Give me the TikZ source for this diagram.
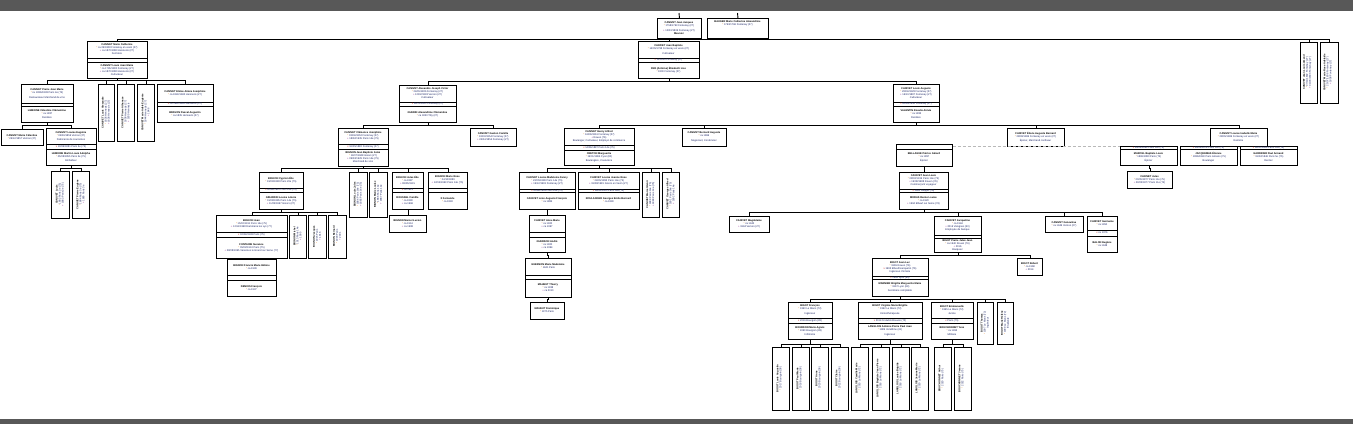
\documentclass[tikz,border=0pt]{standalone}
\usepackage{fontspec}
\setmainfont{Liberation Sans}
\definecolor{barcol}{RGB}{88,88,88}
\definecolor{dtcol}{RGB}{25,35,100}
\definecolor{stcol}{RGB}{235,130,20}
\definecolor{dccol}{RGB}{150,40,150}
\definecolor{macol}{RGB}{200,30,30}
\newcommand\nm[1]{\textbf{\color{black}#1}}
\newcommand\bo{{\color{stcol}*}}
\newcommand\dc{{\color{dccol}+}}
\newcommand\ma{{\color{macol}x}}
\tikzset{
  boite/.style={draw, line width=0.9pt, fill=white, inner sep=0pt, anchor=north west},
  sepl/.style={line width=0.8pt},
  lien/.style={line width=0.9pt},
  txt/.style={inner sep=0pt, align=center, text=dtcol, font=\fontsize{2.55}{3.0}\selectfont},
}
\newcommand\gbox[6]{%
  \node[boite, minimum width={(#4-#2)*1pt}, minimum height={(#5-#3)*1pt}] (#1) at (#2,#3) {};
  \node[txt] (#1-t) at ({(#2+#4)/2},{(#3+#5)/2}) {#6};}
\newcommand\gvert[6]{%
  \node[boite, minimum width={(#4-#2)*1pt}, minimum height={(#5-#3)*1pt}] (#1) at (#2,#3) {};
  \node[txt, rotate=90] (#1-t) at ({(#2+#4)/2},{(#3+#5)/2}) {#6};}
\newcommand\gfam[7]{%
  \node[boite, minimum width={(#4-#2)*1pt}, minimum height={(#5-#3)*1pt}] (#1) at (#2,#3) {};
  \draw[sepl] (#2,#6) -- (#4,#6);
  \draw[sepl] (#2,#7) -- (#4,#7);
  \def\fx{#2}\def\fy{#3}\def\fX{#4}\def\fY{#5}\def\fs{#6}\def\fS{#7}\def\fn{#1}%
  \gfamtext}
\newcommand\gfamtext[3]{%
  \node[txt] (\fn-a) at ({(\fx+\fX)/2},{(\fy+\fs)/2}) {#1};
  \node[txt] (\fn-b) at ({(\fx+\fX)/2},{(\fs+\fS)/2}) {#2};
  \node[txt] (\fn-c) at ({(\fx+\fX)/2},{(\fS+\fY)/2}) {#3};}
\newcommand\kids[3]{%
  \coordinate (#1-bus) at (0,#2);
  \foreach \c in {#3} {\draw[lien] (#1.south) -- (#1.south |- #1-bus) -| (\c.north);}}
\begin{document}
\begin{tikzpicture}[x=1pt,y=-1pt]
\useasboundingbox (0,0) rectangle (1353,424);
\fill[white] (0,0) rectangle (1353,424);
\fill[barcol] (0,0) rectangle (1353,10.5);
\fill[barcol] (0,419) rectangle (1353,424);

% ---- generation 1
\gbox{jj}{657}{18}{701}{38}{\nm{CANIVET Jean Jacques}\\ \bo{} 1758/1763 Fontenay (27)\\[1.5pt] \dc{} 12/03/1836 Fontenay (27)\\ \nm{Meunier}}
\gbox{bauger}{707}{18}{768}{38}{\nm{BAUGER Marie Catherine Alexandrine}\\ \bo{} 1763/1766 Fontenay (27)\\[6pt]~}
\coordinate (t1) at (679,13);
\coordinate (t2) at (737.5,13);
\draw[lien] (t1) -- (jj.north);
\draw[lien] (t2) -- (bauger.north);

% ---- generation 2
\gfam{mc}{87}{41}{147}{78}{58}{62}
 {\nm{CANIVET Marie Catherine}\\ \bo{} ca 09/1808 Fontenay en vexin (27)\\ \dc{} ca 1870/1880 Hennezis (27)\\ Fermière}
 {}
 {\nm{CANIVET Louis Jean Marie}\\ \bo{} ca 1795/1800 Fontenay (27)\\ \dc{} ca 1870/1880 Hennezis (27)\\ Cultivateur}
\gfam{jb}{638}{41}{699}{78}{58}{62}
 {\nm{CANIVET Jean Baptiste}\\ \bo{} 14/05/1798 Fontenay en vexin (27)\\[1.5pt] Cultivateur}
 {\ma{} 11/1826 Fontenay (27)}
 {\nm{FER (Antoine) Élisabeth Lise}\\ \bo{} 1800 Fontenay (27)}
\gvert{r1}{1300}{42}{1317}{103}{\nm{CANIVET Jean Louis Amand}\\ \bo{} 07/11/1802 Fontenay (27)\\ \dc{} 04/03/1803 Fontenay (27)\\ ~}
\gvert{r2}{1320}{42}{1338}{103}{\nm{CANIVET Marie Rose Adélaïde}\\ \bo{} 25/07/1806 Fontenay (27)\\ \dc{} 1808 Fontenay (27)\\ ~}
\kids{jj}{39.5}{mc,jb,r1,r2}

% ---- left branch
\gfam{pjm}{21}{84}{73}{122}{103}{106}
 {\nm{CANIVET Pierre Jean Marie}\\ \bo{} ca 1836/1838 Paris 4e (75)\\[1.5pt] Restaurateur Marchand de vins}
 {}
 {\nm{LEMOINE Célestine Clémentine}\\ \bo{} ca 1837\\[1.5pt] Rentière}
\gvert{lv1}{98}{84}{114}{141}{\nm{CANIVET Louis Alexandre}\\ \bo{} 1836 Hennezis (27)\\ \dc{} 1838 Hennezis (27)}
\gvert{lv2}{117}{84}{134}{141}{\nm{CANIVET Pierre Athanase}\\ \bo{} 1838 Hennezis (27)\\ \dc{} 1839 Hennezis}
\gvert{lv3}{137}{84}{154}{141}{\nm{CANIVET Marie Adèle Eugénie}\\ \bo{} 1844 Hennezis (27)\\ \dc{} 1846}
\gfam{elo}{157}{84}{213}{122}{102}{106}
 {\nm{CANIVET Eloïse Aimée Joséphine}\\ \bo{} ca 1840/1842 Hennezis (27)}
 {\ma{} ca 1860/1863 Hennezis (27)}
 {\nm{BRAVON Pascal Augustin}\\ \bo{} ca 1835 Hennezis (27)}
\kids{mc}{80.7}{pjm,lv1,lv2,lv3,elo}

\gbox{celest}{1}{129}{43}{145}{\nm{CANIVET Marie Célestine}\\ \bo{} 26/12/1857 Vernon (27)}
\gfam{eug}{46}{128}{96}{165}{144}{149}
 {\nm{CANIVET Louise Eugénie}\\ \bo{} 05/09/1859 Vernon (27)\\[1.5pt] Fabricante de couronnes}
 {\ma{} 18/06/1881 Paris 3e (75)}
 {\nm{LEMOINE Martin Louis Adolphe}\\ \bo{} 05/08/1855 Paris 3e (75)\\[1.5pt] Emballeur}
\kids{pjm}{125.7}{celest,eug}
\gvert{ev1}{51}{171}{69}{218}{\nm{CANIVET Louis}\\ \bo{} 1882 Paris 3e (75)\\ \dc{} 1883 Paris 3e (75)}
\gvert{ev2}{72}{171}{89}{218}{\nm{CANIVET Pierre Eugène}\\ \bo{} 1884 Paris 3e (75)\\ \dc{} 1885 Paris 3e}
\kids{eug}{168.3}{ev1,ev2}

% ---- Alexandre branch
\gfam{alex}{399}{85}{456}{122}{102}{106}
 {\nm{CANIVET Alexandre Joseph Victor}\\ \bo{} 24/05/1826 Fontenay (27)\\ \dc{} 12/02/1893 Vernon (27)\\ Cultivateur}
 {\ma{} 26/10/1850 Fontenay (27)}
 {\nm{GUERIN Alexandrine Clémentine}\\ \bo{} ca 1830 Tilly (27)}
\gfam{la}{893}{84}{939}{122}{102}{106}
 {\nm{CANIVET Louis Auguste}\\ \bo{} 28/04/1828 Fontenay (27)\\ \dc{} 16/10/1887 Fontenay (27)\\ Cultivateur}
 {\ma{} 26/08/1858 Fontenay (27)}
 {\nm{VALENTIN Rosalie Aimée}\\ \bo{} ca 1833\\[1.5pt] Rentière}
\kids{jb}{81.7}{alex,la}

\gfam{clem}{338}{128}{388}{166}{144}{149}
 {\nm{CANIVET Clémence Joséphine}\\ \bo{} 03/04/1852 Fontenay (27)\\ \dc{} 18/02/1935 Paris 14e (75)}
 {\ma{} 16/05/1882 Fontenay (27)}
 {\nm{BIGNON Jean Baptiste Jules}\\ \bo{} 19/07/1848 Gisors (27)\\ \dc{} 09/03/1929 Paris 14e (75)\\ Marchand de vins}
\gbox{gaston}{470}{128}{516}{146}{\nm{CANIVET Gaston Camille}\\ \bo{} 18/03/1854 Fontenay (27)\\ \dc{} 24/04/1854 Fontenay (27)}
\kids{alex}{125}{clem,gaston}

\gfam{cyp}{259}{172}{303}{209}{188}{192}
 {\nm{BIGNON Cyprien Élie}\\ \bo{} 19/09/1883 Paris 20e (75)}
 {\ma{} 20/04/1910 Paris 14e (75)}
 {\nm{GIRARDIN Louise Léonie}\\ \bo{} 01/08/1885 Paris 14e (75)\\ \dc{} 11/05/1967 Gisors (27)}
\gvert{cv1}{349}{172}{367}{217}{\nm{BIGNON Louis Jules}\\ \bo{} 1884 Paris 14e (75)\\ \dc{} 1885 Paris 14e (75)}
\gvert{cv2}{369}{172}{387}{217}{\nm{BIGNON Marie Louise}\\ \bo{} 1886 Paris 14e\\ \dc{} 1887 Paris 14e}
\gfam{bfour}{392}{172}{423}{209}{188}{192}
 {\nm{BIGNON Jules Élie}\\ \bo{} ca 1887\\ \dc{} 08/05/1915}
 {\ma{} ca 1913}
 {\nm{ROUSSEL Camille}\\ \bo{} ca 1890\\ \dc{} ca 1966}
\gfam{bfive}{428}{172}{467}{209}{188}{192}
 {\nm{BIGNON Marie Rose}\\ \bo{} 04/10/1889\\ \dc{} 12/04/1963 Paris 14e (75)}
 {}
 {\nm{X Fernande}\\ \bo{} ca 1893}
\kids{clem}{168.7}{cyp,cv1,cv2,bfour,bfive}
\gbox{bfourc}{389}{215}{426}{232}{\nm{BIGNON Marcel Lucien}\\ \bo{} ca 1914\\ \dc{} ca 1998}
\kids{bfour}{212}{bfourc}

\gfam{bjean}{216}{215}{287}{258}{232}{237}
 {\nm{BIGNON Jean}\\ \bo{} 15/02/1911 Paris 14e (75)\\ \dc{} 12/11/1998 Dammarie les Lys (77)}
 {\ma{} 02/04/1938 Paris (75)}
 {\nm{FONTAINE Suzanne}\\ \bo{} 05/02/1913 Paris (75)\\ \dc{} 28/08/1995 Varennes le Grand sur Seine (77)}
\gvert{bv1}{289}{215}{306}{258}{\nm{BIGNON Michel}\\ \bo{} 1913 Paris 14e\\ \dc{} 1995}
\gvert{bv2}{308}{215}{326}{258}{\nm{BIGNON Jacques}\\ \bo{} 1915 Paris\\ \dc{} 1916}
\gvert{bv3}{328}{215}{346}{258}{\nm{BIGNON Bernard}\\ \bo{} 1918 Paris\\ \dc{} 2001}
\kids{cyp}{212}{bjean,bv1,bv2,bv3}
\gfam{fran}{227}{259}{276}{296}{275}{280}
 {\nm{BIGNON Francis Marie Hélène}\\ \bo{} ca 1939}
 {}
 {\nm{DENIOS François}\\ \bo{} ca 1937}
\kids{bjean}{258.5}{fran}

% ---- Louis Auguste branch
\gfam{henry}{564}{128}{634}{165}{145}{150}
 {\nm{CANIVET Henry Alfred}\\ \bo{} 16/06/1861 Fontenay (27)\\ \dc{} Rouen (76)\\ Boulanger, Cultivateur, Employé de commerce}
 {\ma{} 14/06/1887 Paris 14e (75)}
 {\nm{CRETON Marguerite}\\ \bo{} 19/01/1865 Cyon (80)\\[1.5pt] Boulangère, Couturière}
\gbox{bern}{682}{128}{726}{146}{\nm{CANIVET Bernard Auguste}\\ \bo{} ca 1866\\[1.5pt] Négociant, Cordonnier}
\gbox{elisee}{1007}{128}{1064}{146}{\nm{CANIVET Élisée Auguste Bernard}\\ \bo{} 28/08/1869 Fontenay en vexin (27)\\[1.5pt] Épicier, Marchand confiseur}
\gbox{louise}{1210}{128}{1267}{146}{\nm{CANIVET Louise Isabelle Marie}\\ \bo{} 28/05/1869 Fontenay en vexin (27)\\[1.5pt] Rentière}
\kids{la}{125.7}{henry,bern,elisee,louise}

\gfam{mone}{1120}{146}{1177}{165}{149.5}{149.5}
 {\ma{} 26/04/1899 Paris 11e (75)}{}
 {\nm{MARCEL Baptiste Louis}\\ \bo{} 1869/1880 Paris (75)\\[1.5pt] Épicier}
\gfam{mtwo}{1180}{146}{1237}{165}{149.5}{149.5}
 {\ma{} 28/04/1878 Paris 11e (75)}{}
 {\nm{JACQUEMAS Étienne}\\ \bo{} 1836/1840 Paris Amiens (75)\\[1.5pt] Boulanger}
\gfam{mthree}{1240}{146}{1297}{165}{149.5}{149.5}
 {\ma{} 14/02/1888 Paris 13e (75)}{}
 {\nm{GARDRIER Paul Armand}\\ \bo{} 19/02/1846 Paris 5e (75)\\[1.5pt] Rentier}
\gbox{monec}{1127}{171}{1172}{188}{\nm{CANIVET Jules}\\ \bo{} 20/05/1877 Paris 11e (75)\\ \dc{} 28/03/1877 Paris 11e (75)}
\kids{mone}{168}{monec}

\gfam{bell}{896}{144}{952}{166}{149}{149}
 {}{}
 {\nm{BELLAGUE Patrice Gérard}\\ \bo{} ca 1897\\[1.5pt] Épicier}
\coordinate (dsh) at (0,146.5);
\draw[dashed, dash pattern=on 3pt off 2pt, gray!55, line width=0.7pt] (bell.east |- dsh) -- (mone.west |- dsh);

\gfam{jl}{899}{172}{948}{209}{189}{192}
 {\nm{CANIVET Jean Louis}\\ \bo{} 08/02/1919 Paris 14e (75)\\ \dc{} 19/08/1988 Rouen (76)\\ Commerçant voyageur}
 {\ma{} 1941 Dieppe (76)}
 {\nm{MORAS Renée Louise}\\ \bo{} ca 1920\\ \dc{} 1994 Elbeuf sur Seine (76)}
\kids{bell}{169}{jl}

\gbox{mag}{729}{216}{769}{232}{\nm{CANIVET Magdeleine}\\ \bo{} ca 1942\\ \dc{} 1994 Vernon (27)}
\gfam{jac}{934}{216}{981}{252}{235}{238}
 {\nm{CANIVET Jacqueline}\\ \bo{} ca 1944\\ \dc{} 2016 Valognes (50)\\ Employée de banque}
 {}
 {\nm{BIGOT Pierre Jules Jean}\\ \bo{} ca 1940 Rouen (76)\\ \dc{} 2016\\ Banquier}
\gbox{gen}{1045}{216}{1083}{232}{\nm{CANIVET Geneviève}\\ \bo{} ca 1946 Vernon (27)}
\gfam{ger}{1087}{216}{1117}{252}{230}{236}
 {\nm{CANIVET Germaine}\\ \bo{} ca 1950}
 {\ma{} ca 1976}
 {\nm{BALON Eugène}\\ \bo{} ca 1948}
\kids{jl}{212.3}{mag,jac,gen,ger}

\gfam{jluc}{872}{258}{928}{296}{276}{279}
 {\nm{BIGOT Jean Luc}\\ \bo{} 1965 Rouen (76)\\ \ma{} 1993 Elbeuf/Lanquetot (76)\\ Ingénieur chimiste}
 {\ma{} 1989 Lyon (69)}
 {\nm{MARNIER Brigitte Marguerite Marie}\\ \bo{} 1967 Lyon (69)\\[1.5pt] Secrétaire comptable}
\gbox{rob}{1017}{258}{1042}{275}{\nm{BIGOT Robert}\\ \bo{} ca 1968\\ \dc{} 2014}
\kids{jac}{255.7}{jluc,rob}

\gfam{fra}{788}{302}{832}{339}{318}{323}
 {\nm{BIGOT François}\\ \bo{} 1990 Le Mans (72)\\[1.5pt] Ingénieur}
 {\ma{} 2016 Bourgoin (38)}
 {\nm{BOURDON Marie Agnès}\\ \bo{} 1990 Bourgoin (38)\\[1.5pt] Infirmière}
\gfam{vir}{858}{302}{922}{339}{318}{323}
 {\nm{BIGOT Virginie Marie Brigitte}\\ \bo{} 1992 Le Mans (72)\\[1.5pt] Kinésithérapeute}
 {\ma{} 2014 St Aubin Bouves (72)}
 {\nm{LANGLOIS Antoine Pierre Paul Jean}\\ \bo{} 1989 Vendôme (41)\\[1.5pt] Ingénieur}
\gfam{emm}{931}{302}{973}{339}{318}{323}
 {\nm{BIGOT Emmanuelle}\\ \bo{} 1995 Le Mans (72)\\[1.5pt] Juriste}
 {\ma{} Paris (75)}
 {\nm{BOUCHONNET Yves}\\ \bo{} ca 1993\\[1.5pt] Militaire}
\gvert{jv1}{977}{302}{993}{344}{\nm{BIGOT Thomas}\\ \bo{} 1997 Le Mans (72)\\ Ingénieur}
\gvert{jv2}{997}{302}{1013}{344}{\nm{BIGOT Marie Hélène}\\ \bo{} 1999 Le Mans (72)\\ Étudiante}
\kids{jluc}{299.3}{fra,vir,emm,jv1,jv2}

\gvert{fv1}{772}{347}{789}{410}{\nm{BIGOT Louis Augustin}\\ \bo{} 2017 Bourgoin (38)\\ ~}
\gvert{fv2}{792}{347}{809}{410}{\nm{BIGOT Paul Marie}\\ \bo{} 2018 Bourgoin (38)\\ ~}
\gvert{fv3}{811}{347}{828}{410}{\nm{BIGOT Anne}\\ \bo{} 2020 Bourgoin (38)\\ ~}
\gvert{fv4}{831}{347}{848}{410}{\nm{BIGOT Claire}\\ \bo{} 2022 Bourgoin (38)\\ ~}
\kids{fra}{344}{fv1,fv2,fv3,fv4}
\gvert{vv1}{851}{347}{868}{410}{\nm{LANGLOIS Camille Marie}\\ \bo{} 2015 Le Mans (72)\\ ~}
\gvert{vv2}{872}{347}{889}{410}{\nm{LANGLOIS Baptiste Jean Pierre}\\ \bo{} 2016 Le Mans (72)\\ ~}
\gvert{vv3}{892}{347}{909}{410}{\nm{LANGLOIS Louise Brigitte}\\ \bo{} 2018 Le Mans (72)\\ ~}
\gvert{vv4}{911}{347}{928}{410}{\nm{LANGLOIS Jeanne Marie}\\ \bo{} 2020 Le Mans (72)\\ ~}
\kids{vir}{344}{vv1,vv2,vv3,vv4}
\gvert{ee1}{934}{347}{951}{410}{\nm{BOUCHONNET Arthur}\\ \bo{} 2020 Paris (75)\\ ~}
\gvert{ee2}{954}{347}{971}{410}{\nm{BOUCHONNET Jeanne}\\ \bo{} 2022 Paris (75)\\ ~}
\kids{emm}{344}{ee1,ee2}

% ---- Henry branch
\gfam{fanny}{519}{172}{575}{209}{189}{192}
 {\nm{CANIVET Louise Madeleine Fanny}\\ \bo{} 22/05/1889 Paris 14e (75)\\ \dc{} 19/12/1981 Fontenay (27)}
 {\ma{} 12/08/1909 Paris 14e (75)}
 {\nm{CANIVET Léon Auguste François}\\ \bo{} ca 1885}
\gfam{rose}{578}{172}{639}{209}{189}{192}
 {\nm{CANIVET Louise Jeanne Rose}\\ \bo{} 24/05/1893 Paris 14e (75)\\ \dc{} 19/08/1981 Gisors en Vexin (27)}
 {\ma{} 16/09/1920 Paris 14e (75)}
 {\nm{ROULANGER Georges Emile Bernard}\\ \bo{} ca 1890}
\gvert{hv1}{642}{172}{659}{217}{\nm{CANIVET Marcel Henri}\\ \bo{} 1888 Paris 14e (75)\\ \dc{} 1889 Paris 14e (75)}
\gvert{hv2}{662}{172}{679}{217}{\nm{CANIVET Georges Alfred}\\ \bo{} 1891 Paris 14e (75)\\ \dc{} 1892 Paris 14e}
\kids{henry}{168.3}{fanny,rose,hv1,hv2}
\gfam{anne}{529}{215}{565}{252}{232}{237}
 {\nm{CANIVET Anne Marie}\\ \bo{} ca 1920\\ \dc{} ca 1997}
 {}
 {\nm{GUERSON André}\\ \bo{} ca 1920\\ \dc{} ca 1994}
\kids{fanny}{212}{anne}
\gfam{mad}{525}{258}{571}{297}{275}{279}
 {\nm{GUERSON Marie Madeleine}\\ \bo{} 1941 Paris}
 {}
 {\nm{MAHEUT Thierry}\\ \bo{} ca 1938\\ \dc{} ca 2010}
\kids{anne}{255}{mad}
\gbox{dom}{530}{302}{564}{319}{\nm{MAHEUT Dominique}\\ \bo{} 1975 Paris}
\kids{mad}{299.5}{dom}
\end{tikzpicture}
\end{document}
